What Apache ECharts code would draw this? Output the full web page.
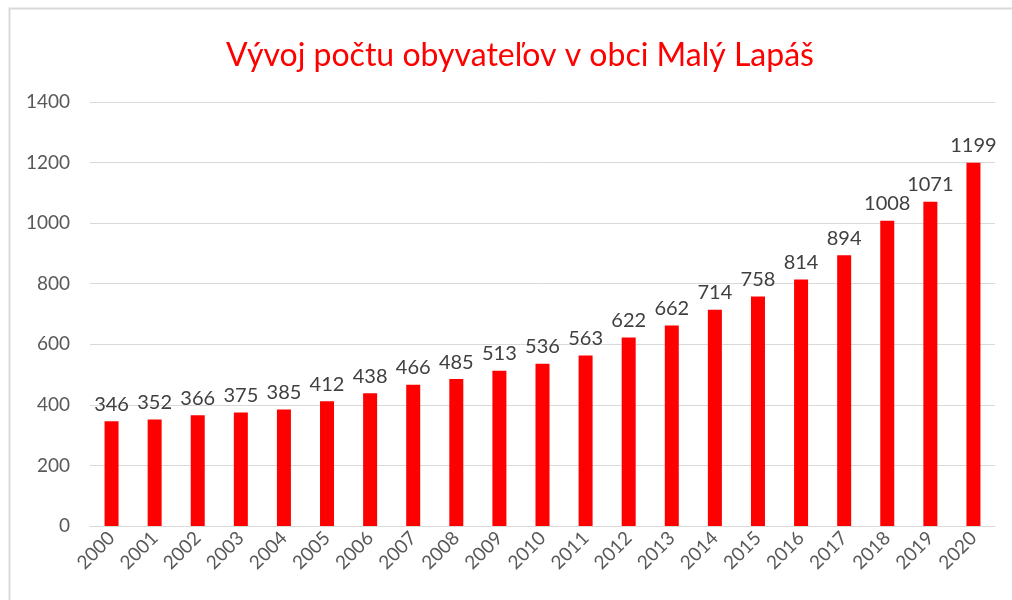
<!DOCTYPE html>
<html>
<head>
<meta charset="utf-8">
<script src="https://cdn.jsdelivr.net/npm/echarts@6/dist/echarts.min.js"></script>
<style>
  html, body { margin: 0; padding: 0; background: #fff; }
  #chart { width: 1012px; height: 600px; }
</style>
</head>
<body>
<div id="chart"></div>
<script>
var years = ['2000', '2001', '2002', '2003', '2004', '2005', '2006', '2007', '2008', '2009', '2010',
  '2011', '2012', '2013', '2014', '2015', '2016', '2017', '2018', '2019', '2020'];
var population = [346, 352, 366, 375, 385, 412, 438, 466, 485, 513, 536,
  563, 622, 662, 714, 758, 814, 894, 1008, 1071, 1199];

var myChart = echarts.init(document.getElementById('chart'));
var fontFamily = 'Lato, "Open Sans", sans-serif';

myChart.setOption({
  animation: false,
  textStyle: { fontFamily: fontFamily },
  graphic: [{
    type: 'rect',
    shape: { x: 9.5, y: 8.5, width: 1010, height: 600 },
    style: { fill: 'none', stroke: '#d9d9d9', lineWidth: 2 },
    silent: true
  }],
  title: {
    text: 'Vývoj počtu obyvateľov v obci Malý Lapáš',
    left: 515,
    textAlign: 'center',
    top: 35,
    textStyle: { color: '#ff0000', fontSize: 32, fontWeight: 'normal', fontFamily: fontFamily }
  },
  grid: { left: 90, right: 17, top: 102, bottom: 74 },
  xAxis: {
    type: 'category',
    data: years,
    axisLine: { lineStyle: { color: '#d9d9d9', width: 1 } },
    axisTick: { show: false },
    axisLabel: { rotate: 45, color: '#595959', fontSize: 19, margin: 9, interval: 0 }
  },
  yAxis: {
    type: 'value',
    min: 0,
    max: 1400,
    interval: 200,
    axisLine: { show: false },
    axisTick: { show: false },
    splitLine: { lineStyle: { color: '#d9d9d9', width: 1 } },
    axisLabel: {
      color: '#595959',
      fontSize: 19,
      margin: 20,
      formatter: function (v) { return String(v); }
    }
  },
  series: [{
    type: 'bar',
    data: population,
    barWidth: 14,
    itemStyle: { color: '#ff0000' },
    label: {
      show: true,
      position: 'top',
      distance: 7,
      color: '#404040',
      fontSize: 20
    }
  }]
});
</script>
</body>
</html>
